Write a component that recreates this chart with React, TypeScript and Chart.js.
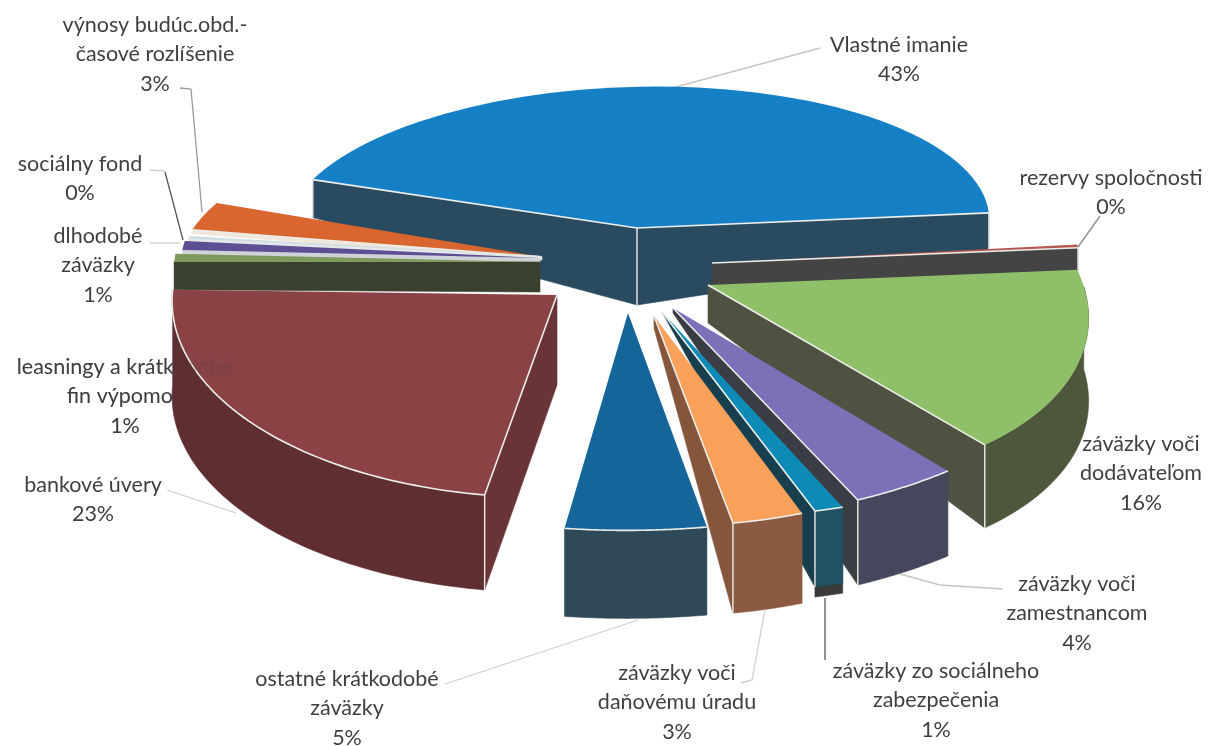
import React, { useEffect, useRef } from "react";
import { Chart, registerables } from "chart.js";

Chart.register(...registerables);

// ---- data (clockwise from "Vlastné imanie")
const categories = [
  "Vlastné imanie",
  "rezervy spoločnosti",
  "záväzky voči|dodávateľom",
  "záväzky voči|zamestnancom",
  "záväzky zo sociálneho|zabezpečenia",
  "záväzky voči|daňovému úradu",
  "ostatné krátkodobé|záväzky",
  "bankové úvery",
  "leasningy a krátkodobé|fin výpomoc",
  "dlhodobé|záväzky",
  "sociálny fond",
  "výnosy budúc.obd.-|časové rozlíšenie",
];
const values = [43, 0.3, 16, 4, 1, 3, 5, 23, 1, 1, 0.3, 3];
const percentLabels = ["43%", "0%", "16%", "4%", "1%", "3%", "5%", "23%", "1%", "1%", "0%", "3%"];

// ---- colours
const topColors = ["#1580c6", "#b5584f", "#8fc069", "#7c70b8", "#0d8ab5", "#f9a05a", "#15659b", "#8b4245", "#7d9a5c", "#5e4f94", "#cfdde0", "#d9662f"];
const cutColors = ["#2a4a60", "#444444", "#4f5240", "#3b3d45", "#173f4e", "#85553c", "#2e4a58", "#6a3336", "#3a402e", "#cfd3d8", "#e4e8e8", "#efe6dc"];
const wallColors = ["#2a4a60", "#444444", "#4d573b", "#45475c", "#1f5262", "#8b5a40", "#2e4a58", "#5f2e30", "#3a402e", "#cfd3d8", "#e4e8e8", "#efe6dc"];

// ---- 3D projection of each wedge: explosion from the hub, tilt matrix, wall heights
const hubOffset = [36, -88];
const explodeX = [-3, 72, 68, 33, 22, 14, -12, -83, -100, -100, -100, -98];
const explodeY = [-57, -22, 0, 23, 27, 31, 28, 10, -23, -27, -29, -28];
const tiltA = [1.02, 1.065, 1.09, 1.244, 1.377, 1.12, 1.327, 1.115, 1.06, 1.04, 1.03, 1.047];
const tiltB = [-0.055, 0, 0.17, 0.0436, -0.027, 0.051, 0.0176, -0.041, 0, 0, 0, -0.12];
const tiltC = [0, 0, 0.0071, -0.026, 0.043, 0, -0.01, 0.0043, -0.006, -0.0105, -0.01, 0.0097];
const tiltD = [0.41, 0.5, 0.581, 0.618, 0.598, 0.608, 0.63, 0.587, 0.37, 0.42, 0.42, 0.431];
const apexDepth = [77, 24, 38, 5, 0, 12, 30, 90, 30, 5, 3, 3];
const rimDepth = [38, 23, 83, 85, 76, 90, 88, 95, 28, 6, 3, 4];
const rimFoot = [0, 0, 0, 0, 10, 0, 0, 0, 0, 0, 0, 0];
const rimEdge = [false, false, false, true, true, true, true, true, false, false, false, false];
const paintOrder = [0, 1, 11, 10, 9, 8, 2, 7, 3, 4, 5, 6];

// ---- label layout
const labelX = [899, 1111, 1141, 1077, 936, 677, 347, 93, 125, 98, 80, 155];
const labelY = [45, 178, 444, 584, 671, 673, 679, 485, 367, 236, 164, 25];
const lineGap = 29.5;
const leaderLines: [string, number[]][] = [
  ["#c4c4c4", [820, 48, 672, 88]],
  ["#8a8a8a", [1100, 216, 1078, 247]],
  ["#c4c4c4", [1003, 589, 940, 585, 900, 574]],
  ["#555555", [825, 598, 825, 660]],
  ["#cfcfcf", [765, 610, 752, 680, 741, 683]],
  ["#cfcfcf", [638, 620, 445, 684]],
  ["#c8d0c8", [167, 490, 236, 513]],
  ["#cfcfcf", [150, 243, 180, 243]],
  ["#555555", [165, 172, 183, 240]],
  ["#cfcfcf", [150, 170, 165, 171]],
  ["#999999", [180, 88, 191, 89, 202, 212]],
];
const FONT = '21.5px Lato, "Open Sans", sans-serif';
const EDGE = "#eceeea";

function drawLabel(ctx: CanvasRenderingContext2D, i: number) {
  ctx.font = FONT;
  ctx.textAlign = "center";
  ctx.textBaseline = "middle";
  const lines = categories[i].split("|").concat(percentLabels[i]);
  lines.forEach((t, k) => ctx.fillText(t, labelX[i], labelY[i] + k * lineGap));
}

const pie3dPlugin = {
  id: "pie3d",
  beforeDatasetsDraw(chart: any) {
    const ctx: CanvasRenderingContext2D = chart.ctx;
    const arcs = chart.getDatasetMeta(0).data;

    // leader lines and the label that the big wedge covers
    ctx.save();
    ctx.lineWidth = 1.3;
    leaderLines.forEach(([col, p]) => {
      ctx.strokeStyle = col;
      ctx.beginPath();
      ctx.moveTo(p[0], p[1]);
      for (let k = 2; k < p.length; k += 2) ctx.lineTo(p[k], p[k + 1]);
      ctx.stroke();
    });
    ctx.fillStyle = "#3f3f3f";
    drawLabel(ctx, 8);
    ctx.restore();

    paintOrder.forEach((i) => {
      const arc = arcs[i];
      const { x, y, startAngle, endAngle, outerRadius } = arc.getProps(["x", "y", "startAngle", "endAngle", "outerRadius"], true);
      const ax = x + hubOffset[0] + explodeX[i];
      const ay = y + hubOffset[1] + explodeY[i];
      const at = (t: number) => {
        const X = outerRadius * Math.cos(t);
        const Y = outerRadius * Math.sin(t);
        return [ax + tiltA[i] * X + tiltB[i] * Y, ay + tiltC[i] * X + tiltD[i] * Y];
      };
      const s = at(startAngle);
      const e = at(endAngle);
      const dA = apexDepth[i];
      const dR = rimDepth[i];

      const poly = (pts: number[][], fill: string) => {
        ctx.beginPath();
        pts.forEach((p, k) => (k ? ctx.lineTo(p[0], p[1]) : ctx.moveTo(p[0], p[1])));
        ctx.closePath();
        ctx.fillStyle = fill;
        ctx.strokeStyle = fill;
        ctx.lineWidth = 0.6;
        ctx.fill();
        ctx.stroke();
      };
      const line = (pts: number[][], w = 1.6) => {
        ctx.beginPath();
        pts.forEach((p, k) => (k ? ctx.lineTo(p[0], p[1]) : ctx.moveTo(p[0], p[1])));
        ctx.strokeStyle = EDGE;
        ctx.lineWidth = w;
        ctx.lineJoin = "round";
        ctx.stroke();
      };

      // is the cut face below the edge apex->a turned to the viewer?
      const faceVisible = (a: number[], o: number[]) => {
        const ex = a[0] - ax;
        const ey = a[1] - ay;
        let nx = -ey;
        let ny = ex;
        if (nx * (o[0] - ax) + ny * (o[1] - ay) > 0) {
          nx = -nx;
          ny = -ny;
        }
        return ny > 0;
      };
      const showS = faceVisible(s, e);
      const showE = faceVisible(e, s);

      // front part of the rim
      const rim: number[][] = [];
      const N = 60;
      for (let k = 0; k <= N; k++) {
        const t = startAngle + ((endAngle - startAngle) * k) / N;
        if (Math.sin(t) > -0.02) rim.push(at(t));
      }
      if (rim.length > 1 && outerRadius > 0 && i !== 0) {
        if (rimFoot[i] > 0) {
          const foot = rim.slice().reverse().map((p) => [p[0], p[1] + dR + rimFoot[i]]);
          poly(rim.concat(foot), "#3a3a3a");
        }
        const low = rim.slice().reverse().map((p) => [p[0], p[1] + dR]);
        poly(rim.concat(low), wallColors[i]);
      }
      if (showS) poly([[ax, ay], s, [s[0], s[1] + dR], [ax, ay + dA]], cutColors[i]);
      if (showE) poly([[ax, ay], e, [e[0], e[1] + dR], [ax, ay + dA]], cutColors[i]);

      // the wedge itself, by the library's arc element
      ctx.save();
      ctx.translate(ax, ay);
      ctx.transform(tiltA[i], tiltC[i], tiltB[i], tiltD[i], 0, 0);
      ctx.translate(-x, -y);
      arc.draw(ctx);
      ctx.restore();

      // light edges
      if (i < 8 || i === 11) {
        if (showS) {
          line([[ax, ay], s]);
          line([s, [s[0], s[1] + dR]], 1.4);
        }
        if (showE) {
          line([[ax, ay], e]);
          line([e, [e[0], e[1] + dR]], 1.4);
        }
        if (showS && showE && dA > 5) line([[ax, ay], [ax, ay + dA]], 1.4);
        if (rimEdge[i] && rim.length > 1) line(rim);
      }
    });

    // labels
    ctx.save();
    ctx.fillStyle = "#3f3f3f";
    categories.forEach((_, i) => {
      if (i !== 8) drawLabel(ctx, i);
    });
    ctx.globalAlpha = 0.22;
    drawLabel(ctx, 8);
    ctx.restore();
    return false;
  },
};

export default function App() {
  const ref = useRef<HTMLCanvasElement>(null);
  useEffect(() => {
    document.body.style.margin = "0";
    document.body.style.background = "#ffffff";
    const chart = new Chart(ref.current!, {
      type: "pie",
      data: {
        labels: categories,
        datasets: [{ data: values, backgroundColor: topColors, borderWidth: 0, radius: 345 }],
      },
      options: {
        responsive: false,
        animation: false,
        rotation: -70,
        events: [],
        layout: { padding: 0 },
        plugins: { legend: { display: false }, tooltip: { enabled: false } },
      },
      plugins: [pie3dPlugin],
    } as any);
    return () => chart.destroy();
  }, []);
  return <canvas ref={ref} width={1208} height={746} style={{ display: "block" }} />;
}
